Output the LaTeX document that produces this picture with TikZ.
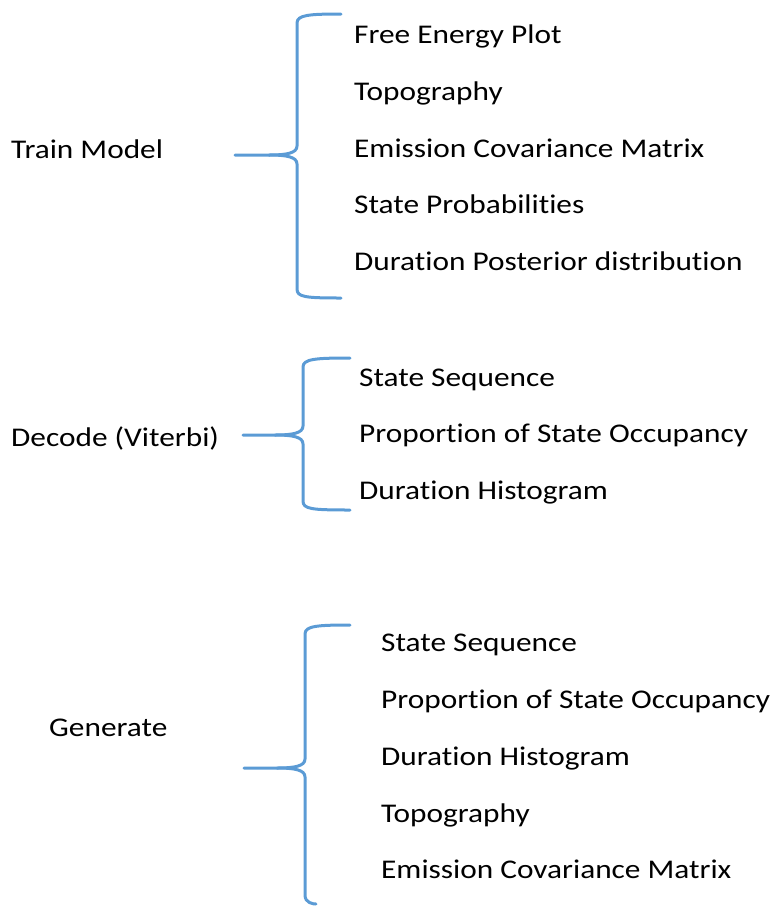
\documentclass[tikz,border=0pt]{standalone}
\usepackage{fontspec}
\setmainfont{Carlito}[FakeStretch=1.16, Ligatures={NoCommon}]
\definecolor{bracecol}{RGB}{91,155,213}
\tikzset{
  lbl/.style={anchor=base west, inner sep=0pt, font=\fontsize{27}{30}\selectfont},
  bracestyle/.style={draw=bracecol, line width=3pt, line cap=round, line join=round}
}
\newcommand\mybrace[7]{% x, ytop, ymid, ybot, xtip, xend top, xend bottom
  \draw[bracestyle] (#6,#2) .. controls ({#1+12},#2) and (#1,{#2+1}) .. (#1,{#2+9})
    -- (#1,{#3-9}) .. controls (#1,{#3-2}) and ({#1-10},#3) .. ({#1-28},#3) -- (#5,#3);
  \draw[bracestyle] ({#1-28},#3) .. controls ({#1-10},#3) and (#1,{#3+2}) .. (#1,{#3+9})
    -- (#1,{#4-9}) .. controls (#1,{#4-1}) and ({#1+8},#4) .. (#7,#4);
}
\begin{document}
\begin{tikzpicture}[x=1pt,y=-1pt]
\useasboundingbox (0,0) rectangle (773,906);
% group 1
\node[lbl] (train) at (11,158) {Train Model};
\node[lbl] (a1) at (354,43) {Free Energy Plot};
\node[lbl] (a2) at (354,100) {Topography};
\node[lbl] (a3) at (354,157) {Emission Covariance Matrix};
\node[lbl] (a4) at (354,213) {State Probabilities};
\node[lbl] (a5) at (354,270) {Duration Posterior distribution};
\mybrace{297}{14}{155}{298}{235}{341}{341}
% group 2
\node[lbl] (decode) at (11,446) {Decode (Viterbi)};
\node[lbl] (b1) at (359,386) {State Sequence};
\node[lbl] (b2) at (359,442) {Proportion of State Occupancy};
\node[lbl] (b3) at (359,499) {Duration Histogram};
\mybrace{303}{358}{435}{510}{243}{350}{350}
% group 3
\node[lbl] (gen) at (49,736) {Generate};
\node[lbl] (c1) at (381,651) {State Sequence};
\node[lbl] (c2) at (381,708) {Proportion of State Occupancy};
\node[lbl] (c3) at (381,765) {Duration Histogram};
\node[lbl] (c4) at (381,822) {Topography};
\node[lbl] (c5) at (381,878) {Emission Covariance Matrix};
\mybrace{305}{625}{768}{904}{244}{350}{316}
\end{tikzpicture}
\end{document}
